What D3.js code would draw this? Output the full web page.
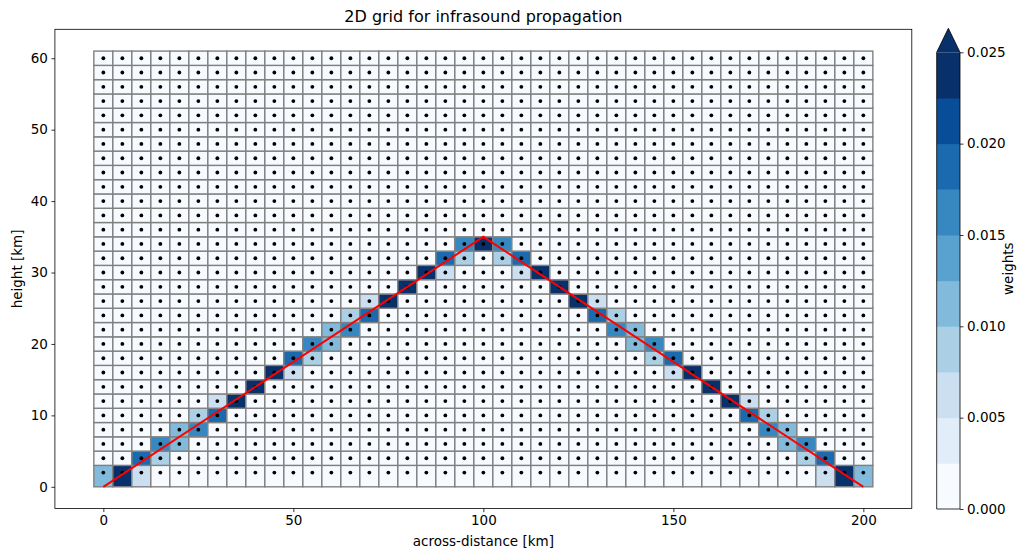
<!DOCTYPE html>
<html><head><meta charset="utf-8">
<script src="https://cdn.jsdelivr.net/npm/d3@7"></script>
<style>body{margin:0;background:#fff}svg{display:block;font-family:"DejaVu Sans",sans-serif}</style>
</head><body><svg id="c" width="1020" height="551"></svg>
<script>
// grid point coordinates (km)
const xCenters = [0,5,10,15,20,25,30,35,40,45,50,55,60,65,70,75,80,85,90,95,100,105,110,115,120,125,130,135,140,145,150,155,160,165,170,175,180,185,190,195,200];
const xEdges = [-2.5,2.5,7.5,12.5,17.5,22.5,27.5,32.5,37.5,42.5,47.5,52.5,57.5,62.5,67.5,72.5,77.5,82.5,87.5,92.5,97.5,102.5,107.5,112.5,117.5,122.5,127.5,132.5,137.5,142.5,147.5,152.5,157.5,162.5,167.5,172.5,177.5,182.5,187.5,192.5,197.5,202.5];
const yCenters = [2,4,6,8,10,12,14,16,18,20,22,24,26,28,30,32,34,36,38,40,42,44,46,48,50,52,54,56,58,60];
const yEdges = [0,3,5,7,9,11,13,15,17,19,21,23,25,27,29,31,33,35,37,39,41,43,45,47,49,51,53,55,57,59,61];
// non-zero cells: column index, row index, weight
const cellCols = [0,1,2,2,3,3,4,4,5,5,6,6,7,7,8,9,9,10,10,11,11,12,12,13,13,14,14,15,15,16,17,17,18,18,19,19,20,
                  21,21,22,22,23,23,24,25,25,26,26,27,27,28,28,29,29,30,30,31,31,32,33,33,34,34,35,35,36,36,37,37,38,38,39,40];
const cellRows = [0,0,0,1,1,2,2,3,3,4,4,5,5,6,6,6,7,7,8,8,9,9,10,10,11,11,12,12,13,13,13,14,14,15,15,16,16,
                  16,15,15,14,14,13,13,13,12,12,11,11,10,10,9,9,8,8,7,7,6,6,6,5,5,4,4,3,3,2,2,1,1,0,0,0];
const cellWeights = [0.01249,0.025,0.0054,0.0196,0.0089,0.0161,0.01249,0.01249,0.0161,0.0089,0.0196,0.0054,0.0232,0.0018,0.025,0.0018,0.0232,0.0054,0.0196,0.0089,0.0161,0.01249,0.01249,0.0161,0.0089,0.0196,0.0054,0.0232,0.0018,0.025,0.0018,0.0232,0.0054,0.0196,0.0089,0.0161,0.025,
                  0.0161,0.0089,0.0196,0.0054,0.0232,0.0018,0.025,0.0018,0.0232,0.0054,0.0196,0.0089,0.0161,0.01249,0.01249,0.0161,0.0089,0.0196,0.0054,0.0232,0.0018,0.025,0.0018,0.0232,0.0054,0.0196,0.0089,0.0161,0.01249,0.01249,0.0161,0.0089,0.0196,0.0054,0.025,0.01249];
// ray path
const rayX = [0,100,200];
const rayY = [0,35,0];
const levels = [0,0.0025,0.005,0.0075,0.01,0.0125,0.015,0.0175,0.02,0.0225,0.025];
const xTicks = [0,50,100,150,200];
const yTicks = [0,10,20,30,40,50,60];
const cbTicks = [0,0.005,0.01,0.015,0.02,0.025];
const bluesStops = ["#f7fbff","#deebf7","#c6dbef","#9ecae1","#6baed6","#4292c6","#2171b5","#08519c","#08306b"];

const svg = d3.select("#c");
const L=54.9,R=911.8,T=29.3,B=508.6;
const x = d3.scaleLinear().domain([-12.75,212.75]).range([L,R]);
const y = d3.scaleLinear().domain([-3.05,64.05]).range([B,T]);
const blues = d3.scaleLinear().domain(bluesStops.map((d,i)=>i/(bluesStops.length-1))).range(bluesStops).interpolate(d3.interpolateRgb);
const bandColors = d3.range(levels.length-1).map(i=>blues(i/(levels.length-2)));
const overColor = blues(1);
const color = d3.scaleThreshold().domain(levels.slice(1)).range(bandColors.concat([overColor]));

// weight matrix
const W = yCenters.map(()=>xCenters.map(()=>0));
cellCols.forEach((c,i)=>{W[cellRows[i]][c]=cellWeights[i];});
const cells=[];
W.forEach((row,r)=>row.forEach((w,c)=>cells.push({r,c,w})));

const g = svg.append("g");
g.selectAll("rect.cell").data(cells).join("rect").attr("class","cell")
 .attr("x",d=>x(xEdges[d.c])).attr("width",d=>x(xEdges[d.c+1])-x(xEdges[d.c]))
 .attr("y",d=>y(yEdges[d.r+1])).attr("height",d=>y(yEdges[d.r])-y(yEdges[d.r+1]))
 .attr("fill",d=>color(d.w)).attr("stroke","#808080").attr("stroke-width",1.4);
// dots
const pts=[];
yCenters.forEach(yy=>xCenters.forEach(xx=>pts.push([xx,yy])));
g.selectAll("circle").data(pts).join("circle").attr("cx",d=>x(d[0])).attr("cy",d=>y(d[1])).attr("r",1.9).attr("fill","#000");
// ray
g.append("path").attr("d",d3.line().x(d=>x(d[0])).y(d=>y(d[1]))(rayX.map((v,i)=>[v,rayY[i]])))
 .attr("fill","none").attr("stroke","#ff0000").attr("stroke-width",2);

// frame
svg.append("rect").attr("x",L).attr("y",T).attr("width",R-L).attr("height",B-T).attr("fill","none").attr("stroke","#000").attr("stroke-width",0.8);
// axes
const xa = svg.append("g").attr("transform",`translate(0,${B})`).call(d3.axisBottom(x).tickValues(xTicks).tickSize(3.5).tickPadding(3.5));
const ya = svg.append("g").attr("transform",`translate(${L},0)`).call(d3.axisLeft(y).tickValues(yTicks).tickSize(3.5).tickPadding(3.5));
[xa,ya].forEach(a=>{a.select(".domain").remove();a.selectAll("line").attr("stroke","#000").attr("stroke-width",0.8);a.selectAll("text").attr("font-size",13.5).attr("fill","#000").attr("font-family","DejaVu Sans");});

svg.append("text").attr("x",(L+R)/2).attr("y",22).attr("text-anchor","middle").attr("font-size",16).text("2D grid for infrasound propagation");
svg.append("text").attr("x",(L+R)/2).attr("y",546).attr("text-anchor","middle").attr("font-size",13.5).text("across-distance [km]");
svg.append("text").attr("transform",`translate(22,${(T+B)/2}) rotate(-90)`).attr("text-anchor","middle").attr("font-size",13.5).text("height [km]");

// colorbar
const cbL=936.7,cbR=960,cbB=509,cbT=52.3,cbTip=28.3;
const cy = d3.scaleLinear().domain([0,0.025]).range([cbB,cbT]);
const cb = svg.append("g");
cb.selectAll("rect").data(d3.range(levels.length-1)).join("rect")
 .attr("x",cbL).attr("width",cbR-cbL).attr("y",i=>cy(levels[i+1])).attr("height",i=>cy(levels[i])-cy(levels[i+1])+0.5)
 .attr("fill",i=>bandColors[i]);
cb.append("path").attr("d",`M${cbL},${cbT}L${(cbL+cbR)/2},${cbTip}L${cbR},${cbT}Z`).attr("fill",overColor);
cb.append("path").attr("d",`M${cbL},${cbB}L${cbL},${cbT}L${(cbL+cbR)/2},${cbTip}L${cbR},${cbT}L${cbR},${cbB}Z`).attr("fill","none").attr("stroke","#000").attr("stroke-width",0.8);
const ca = svg.append("g").attr("transform",`translate(${cbR},0)`).call(d3.axisRight(cy).tickValues(cbTicks).tickFormat(d3.format(".3f")).tickSize(3.5).tickPadding(3.5));
ca.select(".domain").remove();
ca.selectAll("line").attr("stroke","#000").attr("stroke-width",0.8);
ca.selectAll("text").attr("font-size",13.5).attr("fill","#000").attr("font-family","DejaVu Sans");
svg.append("text").attr("transform",`translate(1013,${(cbTip+cbB)/2}) rotate(-90)`).attr("text-anchor","middle").attr("font-size",13.5).text("weights");
</script></body></html>
